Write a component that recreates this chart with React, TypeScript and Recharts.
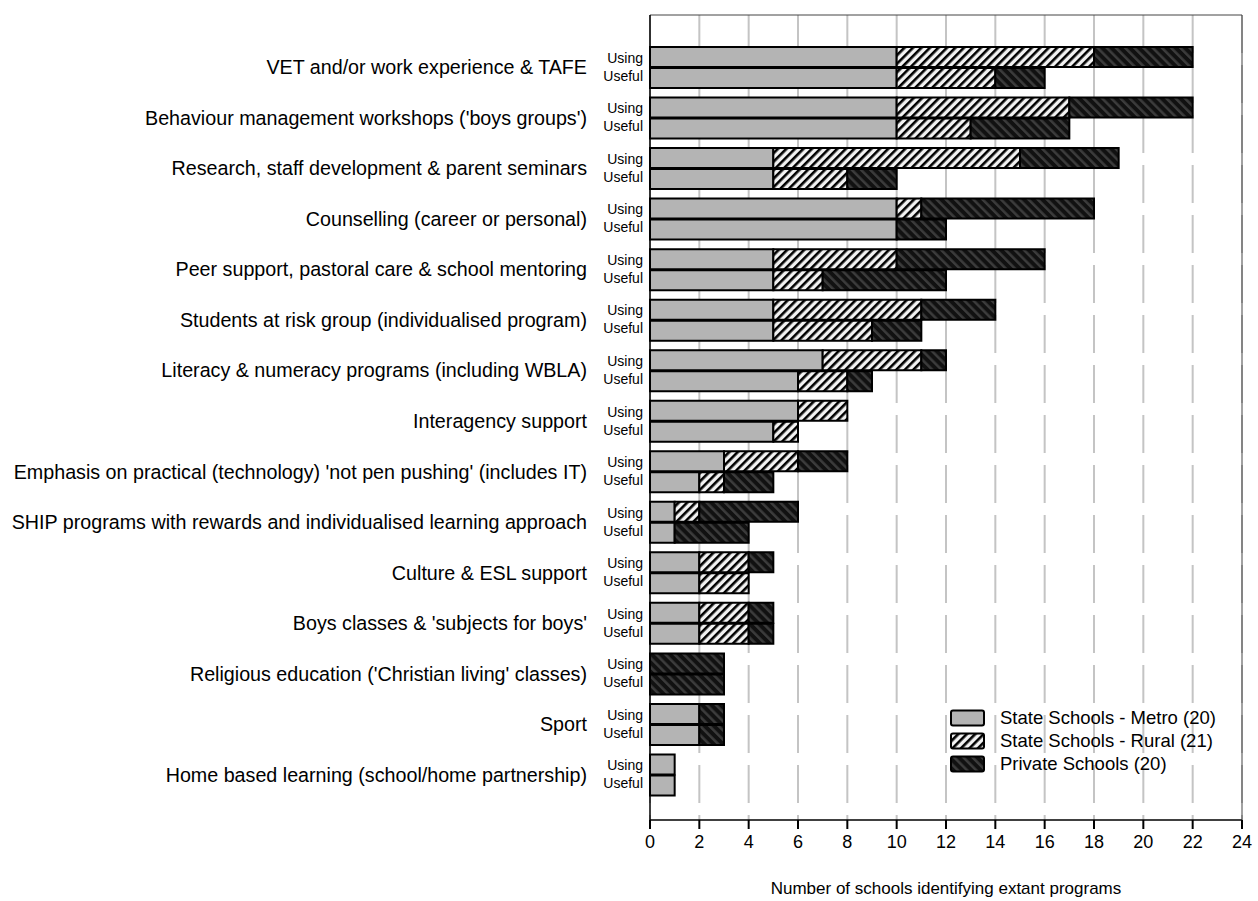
import React from 'react';
import { BarChart, Bar, XAxis, YAxis, CartesianGrid, Legend } from 'recharts';

const categories = [
  'VET and/or work experience & TAFE',
  "Behaviour management workshops ('boys groups')",
  'Research, staff development & parent seminars',
  'Counselling (career or personal)',
  'Peer support, pastoral care & school mentoring',
  'Students at risk group (individualised program)',
  'Literacy & numeracy programs (including WBLA)',
  'Interagency support',
  "Emphasis on practical (technology) 'not pen pushing' (includes IT)",
  'SHIP programs with rewards and individualised learning approach',
  'Culture & ESL support',
  "Boys classes & 'subjects for boys'",
  "Religious education ('Christian living' classes)",
  'Sport',
  'Home based learning (school/home partnership)',
];

const usingMetro = [10, 10, 5, 10, 5, 5, 7, 6, 3, 1, 2, 2, 0, 2, 1];
const usingRural = [8, 7, 10, 1, 5, 6, 4, 2, 3, 1, 2, 2, 0, 0, 0];
const usingPrivate = [4, 5, 4, 7, 6, 3, 1, 0, 2, 4, 1, 1, 3, 1, 0];
const usefulMetro = [10, 10, 5, 10, 5, 5, 6, 5, 2, 1, 2, 2, 0, 2, 1];
const usefulRural = [4, 3, 3, 0, 2, 4, 2, 1, 1, 0, 2, 2, 0, 0, 0];
const usefulPrivate = [2, 4, 2, 2, 5, 2, 1, 0, 2, 3, 0, 1, 3, 1, 0];

const xTicks = [0, 2, 4, 6, 8, 10, 12, 14, 16, 18, 20, 22, 24];
const seriesNames = ['State Schools - Metro (20)', 'State Schools - Rural (21)', 'Private Schools (20)'];
const barLabels = ['Using', 'Useful'];
const xAxisTitle = 'Number of schools identifying extant programs';

const data = categories.map((name, i) => ({
  name,
  usingMetro: usingMetro[i],
  usingRural: usingRural[i],
  usingPrivate: usingPrivate[i],
  usefulMetro: usefulMetro[i],
  usefulRural: usefulRural[i],
  usefulPrivate: usefulPrivate[i],
}));

const FONT = '"Liberation Sans", Arial, Helvetica, sans-serif';
const fills = ['#b4b4b4', 'url(#ruralPattern)', 'url(#privatePattern)'];

const CategoryTick = (props: any) => {
  const { x, y, payload } = props;
  return (
    <g fontFamily={FONT} fill="#000">
      <text x={x - 63} y={y + 7} textAnchor="end" fontSize={19.7} fill="#000">
        {payload.value}
      </text>
      <text x={x - 7} y={y - 4.5} textAnchor="end" fontSize={14} fill="#000">
        {barLabels[0]}
      </text>
      <text x={x - 7} y={y + 13.5} textAnchor="end" fontSize={14} fill="#000">
        {barLabels[1]}
      </text>
    </g>
  );
};

const LegendContent = () => (
  <div style={{ fontFamily: FONT, fontSize: 18.5, color: '#000' }}>
    {seriesNames.map((n, i) => (
      <div key={n} style={{ display: 'flex', alignItems: 'center', height: 23 }}>
        <svg width={36} height={18} style={{ display: 'block' }}>
          <rect x={1} y={1.5} width={33} height={15} rx={2} fill={fills[i]} stroke="#000" strokeWidth={2} />
        </svg>
        <span style={{ marginLeft: 14, whiteSpace: 'nowrap' }}>{n}</span>
      </div>
    ))}
  </div>
);

export default function App() {
  return (
    <div style={{ position: 'absolute', left: 0, top: 0, width: 1258, height: 901, background: '#fff' }}>
      <BarChart
        width={1258}
        height={901}
        data={data}
        layout="vertical"
        margin={{ top: 14, right: 15, bottom: 0, left: 0 }}
        barSize={20}
        barGap={1}
      >
        <defs>
          <pattern id="ruralPattern" patternUnits="userSpaceOnUse" width={6} height={6} patternTransform="rotate(45)">
            <rect x={0} y={0} width={6} height={6} fill="#f2f2f2" />
            <rect x={0} y={0} width={2.6} height={6} fill="#000" />
          </pattern>
          <pattern id="privatePattern" patternUnits="userSpaceOnUse" width={6.5} height={6.5} patternTransform="rotate(-45)">
            <rect x={0} y={0} width={6.5} height={6.5} fill="#111" />
            <rect x={0} y={0} width={2.5} height={6.5} fill="#3c3c3c" />
          </pattern>
        </defs>
        <CartesianGrid horizontal={false} stroke="#c4c4c4" strokeWidth={2} strokeDasharray="38 12" />
        <XAxis
          type="number"
          domain={[0, 24]}
          ticks={xTicks}
          interval={0}
          height={81}
          axisLine={{ stroke: '#000', strokeWidth: 1.5 }}
          tickLine={{ stroke: '#000', strokeWidth: 2 }}
          tickSize={9}
          tickMargin={6}
          tick={{ fontSize: 18, fill: '#000', fontFamily: FONT }}
          label={{ value: xAxisTitle, position: 'insideBottom', offset: 7, fontSize: 17, fill: '#000', fontFamily: FONT }}
        />
        <XAxis
          xAxisId="top"
          orientation="top"
          type="number"
          domain={[0, 24]}
          height={1}
          tick={false}
          tickLine={false}
          axisLine={{ stroke: '#444', strokeWidth: 1 }}
        />
        <YAxis
          type="category"
          dataKey="name"
          width={650}
          padding={{ top: 27, bottom: 20 }}
          interval={0}
          tickSize={0}
          tickMargin={0}
          tickLine={false}
          axisLine={{ stroke: '#000', strokeWidth: 1.5 }}
          tick={<CategoryTick />}
        />
        <YAxis
          yAxisId="right"
          orientation="right"
          type="number"
          domain={[0, 1]}
          width={1}
          tick={false}
          tickLine={false}
          axisLine={{ stroke: '#444', strokeWidth: 1 }}
        />
        <Legend
          layout="vertical"
          align="center"
          verticalAlign="middle"
          content={<LegendContent />}
          wrapperStyle={{ left: 950, top: 706, width: 300 }}
        />
        <Bar dataKey="usingMetro" stackId="using" fill={fills[0]} stroke="#000" strokeWidth={2} isAnimationActive={false} />
        <Bar dataKey="usingRural" stackId="using" fill={fills[1]} stroke="#000" strokeWidth={2} isAnimationActive={false} />
        <Bar dataKey="usingPrivate" stackId="using" fill={fills[2]} stroke="#000" strokeWidth={2} isAnimationActive={false} />
        <Bar dataKey="usefulMetro" stackId="useful" fill={fills[0]} stroke="#000" strokeWidth={2} isAnimationActive={false} />
        <Bar dataKey="usefulRural" stackId="useful" fill={fills[1]} stroke="#000" strokeWidth={2} isAnimationActive={false} />
        <Bar dataKey="usefulPrivate" stackId="useful" fill={fills[2]} stroke="#000" strokeWidth={2} isAnimationActive={false} />
      </BarChart>
    </div>
  );
}
